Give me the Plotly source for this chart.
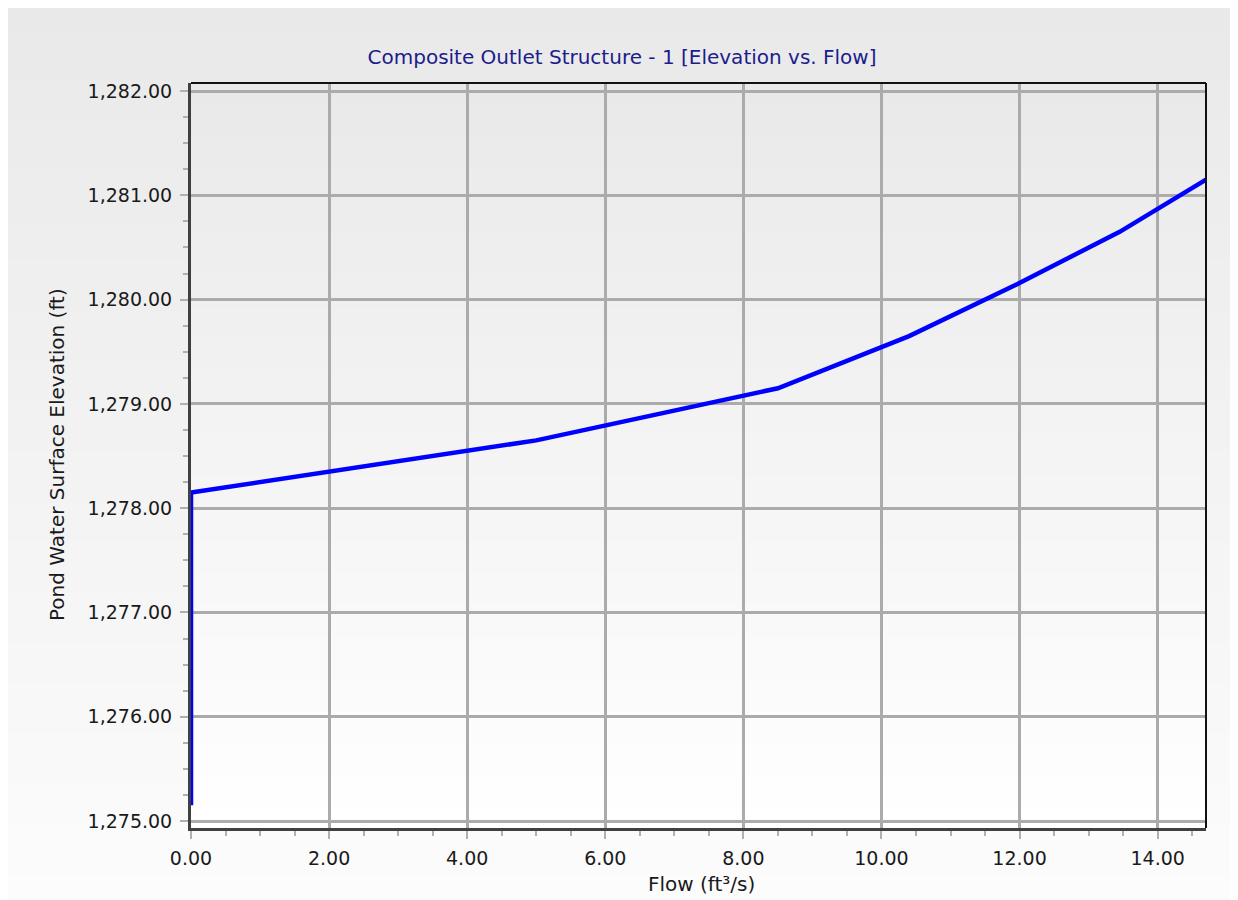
import plotly.graph_objects as go

# Data
flow = [0.0, 0.0, 5.0, 8.5, 10.4, 11.97, 13.45, 14.70]
elevation = [1275.15, 1278.15, 1278.65, 1279.15, 1279.65, 1280.15, 1280.65, 1281.15]

x_range = [0.0, 14.70]
y_range = [1274.933, 1282.077]

title_text = "Composite Outlet Structure - 1 [Elevation vs. Flow]"
x_title = "Flow (ft³/s)"
y_title = "Pond Water Surface Elevation (ft)"

OFF = 8  # page body margin
W, H = 1238 - OFF, 900 - OFF
ML, MR, MT, MB = 191 - OFF, 32, 83 - OFF, 72
pw, ph = W - ML - MR, H - MT - MB


def px_to_paper_x(px):
    # px in reference-image pixels
    return (px - OFF - ML) / pw


def px_to_paper_y(py):
    return (H - MB - (py - OFF)) / ph


def lerp(a, b, t):
    return a + (b - a) * t


def gradient_shapes(x0p, x1p, y0p, y1p, c_top, c_bot, n=60):
    shapes = []
    for i in range(n):
        t = (i + 0.5) / n
        c = int(round(lerp(c_top, c_bot, t)))
        ya = lerp(y0p, y1p, i / n)
        yb = lerp(y0p, y1p, (i + 1) / n) + 1.5
        shapes.append(dict(
            type="rect", xref="paper", yref="paper",
            x0=px_to_paper_x(x0p), x1=px_to_paper_x(x1p),
            y0=px_to_paper_y(min(yb, y1p)), y1=px_to_paper_y(ya),
            fillcolor=f"rgb({c},{c},{c})", line=dict(width=0), layer="below",
        ))
    return shapes


shapes = []
shapes += gradient_shapes(8, 1250, 4, 900, 233, 252, n=70)
shapes += gradient_shapes(191, 1206, 83, 828, 233, 255, n=70)
# top and right border of plot area
shapes.append(dict(type="line", xref="paper", yref="paper", x0=0, x1=1, y0=1, y1=1,
                   line=dict(color="#111111", width=2), layer="above"))
shapes.append(dict(type="line", xref="paper", yref="paper", x0=1, x1=1, y0=0, y1=1,
                   line=dict(color="#111111", width=2), layer="above"))

fig = go.Figure()
fig.add_trace(go.Scatter(
    x=flow, y=elevation, mode="lines",
    line=dict(color="#0000ff", width=4.5),
    hoverinfo="x+y", showlegend=False,
))

FONT = "DejaVu Sans"
tick_font = dict(family=FONT, size=19, color="#1a1a1a")

fig.update_layout(
    width=W, height=H,
    margin=dict(l=ML, r=MR, t=MT, b=MB, autoexpand=False),
    paper_bgcolor="#ffffff",
    plot_bgcolor="rgba(0,0,0,0)",
    shapes=shapes,
    title=dict(text=title_text, x=(622 - OFF) / W, xref="container", xanchor="center",
               y=1 - (57 - OFF) / H, yref="container", yanchor="middle",
               font=dict(family=FONT, size=20, color="#1c1c8c")),
    xaxis=dict(
        range=x_range, dtick=2, tick0=0, tickformat=".2f",
        showgrid=True, gridcolor="#ababab", gridwidth=3,
        zeroline=False, showline=True, linecolor="#404040", linewidth=3,
        ticks="outside", ticklen=8, tickwidth=2, tickcolor="#b0b0b0",
        tickfont=tick_font, ticklabelstandoff=3,
        minor=dict(dtick=0.5, ticks="outside", ticklen=5, tickwidth=2,
                   tickcolor="#b0b0b0", showgrid=False),
    ),
    yaxis=dict(
        range=y_range, dtick=1, tick0=1275, tickformat=",.2f",
        showgrid=True, gridcolor="#ababab", gridwidth=3,
        zeroline=False, showline=True, linecolor="#404040", linewidth=3,
        ticks="outside", ticklen=8, tickwidth=2, tickcolor="#b0b0b0",
        tickfont=tick_font, ticklabelstandoff=4,
        minor=dict(dtick=0.25, ticks="outside", ticklen=5, tickwidth=2,
                   tickcolor="#b0b0b0", showgrid=False),
    ),
    annotations=[
        dict(text=x_title, xref="paper", yref="paper",
             x=px_to_paper_x(701), y=px_to_paper_y(884),
             xanchor="center", yanchor="middle", showarrow=False,
             font=dict(family=FONT, size=20, color="#1a1a1a")),
        dict(text=y_title, xref="paper", yref="paper",
             x=px_to_paper_x(57), y=px_to_paper_y(455),
             xanchor="center", yanchor="middle", showarrow=False, textangle=-90,
             font=dict(family=FONT, size=20, color="#1a1a1a")),
    ],
)

fig.write_html("out.html")
